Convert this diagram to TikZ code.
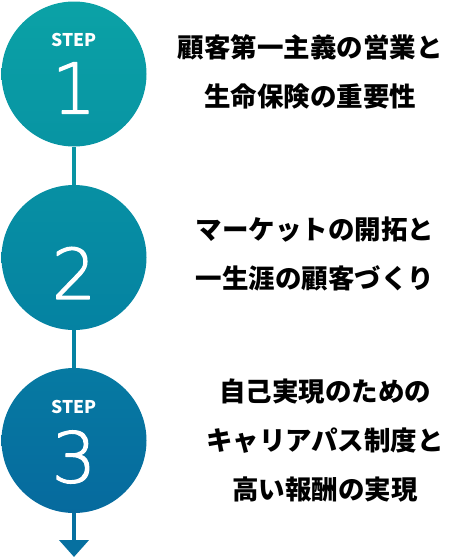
\documentclass[tikz,border=0pt]{standalone}
\usepackage{fontspec}
\newfontfamily\jpfont{Noto Sans CJK JP}
\newfontfamily\numfont[FakeBold=1.6]{DejaVu Sans ExtraLight}
\usetikzlibrary{arrows.meta,positioning}
\definecolor{stageAtop}{RGB}{11,162,166}
\definecolor{stageAbot}{RGB}{8,148,163}
\definecolor{stageBtop}{RGB}{7,144,163}
\definecolor{stageBbot}{RGB}{5,130,162}
\definecolor{stageCtop}{RGB}{6,122,162}
\definecolor{stageCbot}{RGB}{6,106,158}
\definecolor{linkA}{RGB}{8,148,163}
\definecolor{linkB}{RGB}{6,112,160}
\tikzset{
  every picture/.append style={line cap=round,line join=round},
  stage circle/.style={circle,minimum size=145pt,inner sep=0pt},
  stage tag/.style={white,inner sep=0pt,font=\jpfont\bfseries\fontsize{17.5}{17.5}\selectfont},
  stage num/.style={white,inner sep=0pt,font=\numfont\fontsize{70}{70}\selectfont},
  stage text/.style={align=center,inner sep=0pt,font=\jpfont\bfseries\fontsize{26.5}{49}\selectfont},
  stage line/.style={line width=4.7pt,line cap=butt}
}
\begin{document}
\begin{tikzpicture}[x=1pt,y=-1pt]
\useasboundingbox (0,0) rectangle (455,557);
% circles
\node[stage circle,top color=stageAtop,bottom color=stageAbot] (s1) at (74,74) {};
\node[stage circle,top color=stageBtop,bottom color=stageBbot] (s2) at (74,257.5) {};
\node[stage circle,top color=stageCtop,bottom color=stageCbot] (s3) at (74,440.5) {};
\coordinate (end) at (74,557);
\draw[stage line,linkA] (s1.south) -- (s2.north);
\draw[stage line,stageBbot] (s2.south) -- (s3.north);
\draw[stage line,linkB,-{Triangle[width=29pt,length=17pt]}] (s3.south) -- (end);
% labels
\node[stage tag] (tag1) at (74,40) {STEP};
\node[stage num] (num1) at (74,88) {1};
\node[stage num] (num2) at (74,273) {2};
\node[stage tag] (tag3) at (74,407) {STEP};
\node[stage num] (num3) at (74,457) {3};
\node[stage text] (txt1) at (310,72) {顧客第一主義の営業と\\生命保険の重要性};
\node[stage text] (txt2) at (315,254) {マーケットの開拓と\\一生涯の顧客づくり};
\node[stage text] (txt3) at (325,441) {自己実現のための\\キャリアパス制度と\\高い報酬の実現};
\end{tikzpicture}
\end{document}
